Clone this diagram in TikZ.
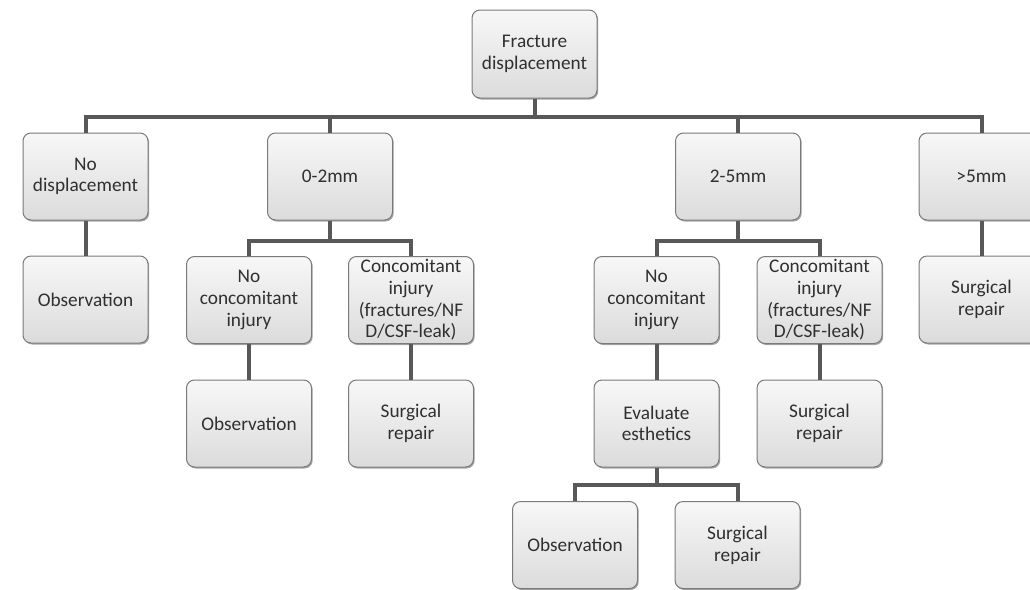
\documentclass[tikz,border=0pt]{standalone}
\usepackage{fontspec}
\setmainfont{Carlito}
\usetikzlibrary{shadows}
\definecolor{linec}{HTML}{585858}
\definecolor{txtc}{HTML}{303030}
\definecolor{bordc}{HTML}{7A7A7A}
\tikzset{
  box/.style={draw=bordc, line width=1pt, rounded corners=8pt,
    top color=gray!6, bottom color=gray!28,
    minimum width=125pt, minimum height=87pt, inner sep=1pt,
    align=center, text=txtc,
    font=\fontsize{19.3pt}{21.7pt}\selectfont,
    drop shadow={shadow xshift=1.2pt, shadow yshift=-1.5pt, opacity=0.35, fill=black}},
  conn/.style={draw=linec, line width=4pt}
}
\begin{document}
\begin{tikzpicture}[x=1pt,y=-1pt]
\useasboundingbox (0,0) rectangle (1030,589);
\node[box, minimum height=88pt] (top) at (534.5,54) {Fracture\\displacement};
\node[box] (nd) at (85.5,176.5) {No\\displacement};
\node[box] (a02) at (330,176.5) {0-2mm};
\node[box] (a25) at (738,176.5) {2-5mm};
\node[box] (a5) at (981.5,176.5) {>5mm};
\node[box] (obs1) at (85.5,299.5) {Observation};
\node[box] (surg5) at (981.5,299.5) {Surgical\\repair};
\node[box] (nc1) at (249,300) {No\\concomitant\\injury};
\node[box] (ci1) at (411,300) {Concomitant\\injury\\(fractures/NF\\D/CSF-leak)};
\node[box] (nc2) at (656.5,300) {No\\concomitant\\injury};
\node[box] (ci2) at (819.5,300) {Concomitant\\injury\\(fractures/NF\\D/CSF-leak)};
\node[box] (obs2) at (249,423.5) {Observation};
\node[box] (surg2) at (411,423.5) {Surgical\\repair};
\node[box] (eval) at (656.5,423.5) {Evaluate\\esthetics};
\node[box] (surg3) at (819.5,423.5) {Surgical\\repair};
\node[box] (obs3) at (575,545) {Observation};
\node[box] (surg4) at (737.5,545) {Surgical\\repair};
% connectors
\coordinate (tb) at ([yshift=-18pt]top.south);
\draw[conn] (top.south) -- (tb);
\draw[conn] (tb) -| (nd.north);
\draw[conn] (tb) -| (a02.north);
\draw[conn] (tb) -| (a25.north);
\draw[conn] (tb) -| (a5.north);
\draw[conn] (nd.south) -- (obs1.north);
\draw[conn] (a5.south) -- (surg5.north);
\coordinate (b1) at ([yshift=-20pt]a02.south);
\draw[conn] (a02.south) -- (b1);
\draw[conn] (b1) -| (nc1.north);
\draw[conn] (b1) -| (ci1.north);
\coordinate (b2) at ([yshift=-20pt]a25.south);
\draw[conn] (a25.south) -- (b2);
\draw[conn] (b2) -| (nc2.north);
\draw[conn] (b2) -| (ci2.north);
\draw[conn] (nc1.south) -- (obs2.north);
\draw[conn] (ci1.south) -- (surg2.north);
\draw[conn] (nc2.south) -- (eval.north);
\draw[conn] (ci2.south) -- (surg3.north);
\coordinate (b3) at ([yshift=-17pt]eval.south);
\draw[conn] (eval.south) -- (b3);
\draw[conn] (b3) -| (obs3.north);
\draw[conn] (b3) -| (surg4.north);
\end{tikzpicture}
\end{document}
